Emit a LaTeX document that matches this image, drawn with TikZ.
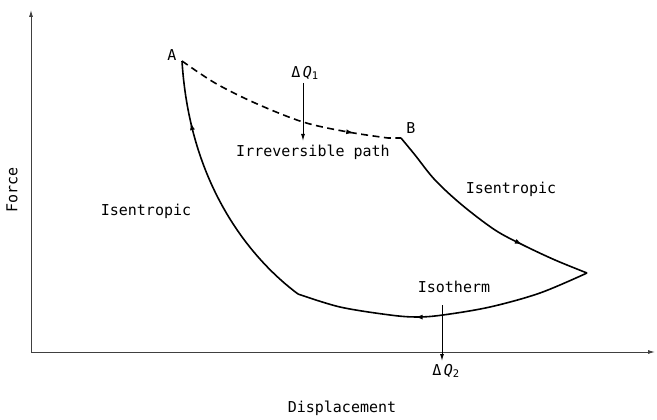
\documentclass[tikz,border=0pt]{standalone}
\usepackage{fontspec}
\setmainfont{DejaVu Sans Mono}
\usetikzlibrary{arrows.meta,decorations.markings}
\tikzset{
  lbl/.style={inner sep=0pt,font=\fontsize{15}{17}\selectfont},
  curve/.style={line width=1.6pt,line join=round},
  midarrow/.style={postaction={decorate},decoration={markings,mark=at position #1 with {\arrow{Latex[length=8pt,width=5pt]}}}},
  axis/.style={line width=0.9pt,black!75},
  heat/.style={line width=1pt,-{Latex[length=7pt,width=4pt]}}
}
\begin{document}
\begin{tikzpicture}[x=1pt,y=-1pt]
\useasboundingbox (0,0) rectangle (657,420);
% axes
\coordinate (O) at (31,352);
\coordinate (Ytop) at (31,10);
\coordinate (Xend) at (655,352);
\draw[axis,-{Latex[length=7pt,width=4pt]}] (O) -- (Ytop);
\draw[axis,-{Latex[length=7pt,width=4pt]}] (O) -- (Xend);
% corners
\coordinate (A) at (182,61);
\coordinate (B) at (401,138);
\coordinate (C) at (587,273);
\coordinate (D) at (298,294);
% left isentropic
\draw[curve,midarrow=0.77] (D) .. controls (255,262) and (190,190) .. (A);
% irreversible path
\draw[curve,dashed,dash pattern=on 7pt off 4.5pt,midarrow=0.8] plot[smooth,tension=0.55] coordinates {(182,61) (215,83) (255,103) (303,122) (348,132) (388,138)} -- (B);
% right isentropic
\draw[curve,midarrow=0.7] plot[smooth,tension=0.55] coordinates {(401,138) (415,155) (435,180) (462,205) (495,230) (523,245) (555,260) (587,273)};
% isotherm
\draw[curve,midarrow=0.6] plot[smooth,tension=0.55] coordinates {(587,273) (540,293) (490,307) (443,315) (417,317) (390,315) (340,307) (298,294)};
% heat arrows
\coordinate (q1s) at (303,83);
\coordinate (q1e) at (303,141);
\draw[heat] (q1s) -- (q1e);
\coordinate (q2s) at (442,305);
\coordinate (q2e) at (442,361);
\draw[heat] (q2s) -- (q2e);
% labels
\node[lbl] (lA) at (172,55) {A};
\node[lbl] (lB) at (411,128) {B};
\node[lbl] (lq1) at (305,73) {Δ\,\textit{Q}\textsubscript{1}};
\node[lbl] (lq2) at (446,371) {Δ\,\textit{Q}\textsubscript{2}};
\node[lbl] (irr) at (313,152) {Irreversible path};
\node[lbl] (isr) at (511,189) {Isentropic};
\node[lbl] (isl) at (146,211) {Isentropic};
\node[lbl] (iso) at (454,287) {Isotherm};
\node[lbl] (disp) at (342,408) {Displacement};
\node[lbl,rotate=90] (force) at (12,190) {Force};
\end{tikzpicture}
\end{document}
